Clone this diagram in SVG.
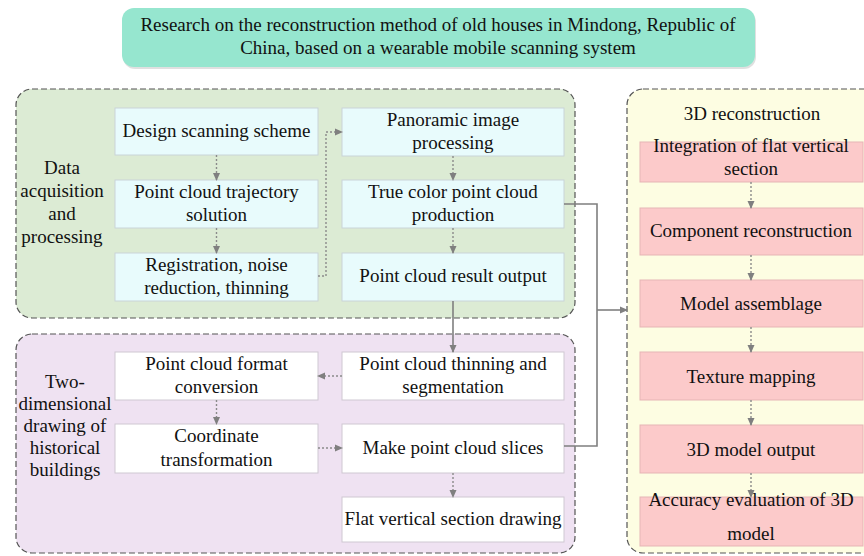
<svg xmlns="http://www.w3.org/2000/svg" width="864" height="556" viewBox="0 0 864 556">
<defs>
<marker id="ah" markerWidth="8" markerHeight="8" refX="7" refY="4" orient="auto" markerUnits="userSpaceOnUse"><path d="M0,0.5 L8,4 L0,7.5 Z" fill="#7f7f7f"/></marker>
</defs>
<style>
text{fill:#111;text-anchor:middle;font-size:19px}
.grp{stroke:#555;stroke-width:1.2;stroke-dasharray:6,3}
.cy{fill:#e8fbfc;stroke:#c9d4d8;stroke-width:1}
.wh{fill:#ffffff;stroke:#cfc8d2;stroke-width:1}
.pk{fill:#fccaca;stroke:#e6b5b5;stroke-width:1}
.dot{fill:none;stroke:#8a8a8a;stroke-width:1.4;stroke-dasharray:2,2}
.sol{fill:none;stroke:#7f7f7f;stroke-width:1.6}
</style>
<g id="title">
<rect x="123" y="10" width="633" height="59" rx="12" fill="#000" fill-opacity="0.12"/>
<rect x="122" y="8" width="633" height="59" rx="12" fill="#96e6cf"/>
<text x="438" y="31" style="font-family:'Liberation Serif',serif">Research on the reconstruction method of old houses in Mindong, Republic of</text>
<text x="438" y="54" style="font-family:'Liberation Serif',serif">China, based on a wearable mobile scanning system</text>
</g>
<g id="group-data">
<rect class="grp" x="16" y="89" width="559" height="229" rx="16" fill="#dcebd4"/>
<text x="62" y="174" style="font-family:'Liberation Serif',serif">Data</text>
<text x="62" y="197" style="font-family:'Liberation Serif',serif">acquisition</text>
<text x="62" y="220" style="font-family:'Liberation Serif',serif">and</text>
<text x="62" y="243" style="font-family:'Liberation Serif',serif">processing</text>
</g>
<g id="group-2d">
<rect class="grp" x="16" y="334" width="559" height="219" rx="16" fill="#efe2f2"/>
<text x="65" y="388" style="font-family:'Liberation Serif',serif">Two-</text>
<text x="65" y="410" style="font-family:'Liberation Serif',serif">dimensional</text>
<text x="65" y="432" style="font-family:'Liberation Serif',serif">drawing of</text>
<text x="65" y="454" style="font-family:'Liberation Serif',serif">historical</text>
<text x="65" y="476" style="font-family:'Liberation Serif',serif">buildings</text>
</g>
<g id="group-3d">
<rect class="grp" x="627" y="89" width="260" height="464" rx="16" fill="#fdfde2"/>
<text x="752" y="120" style="font-family:'Liberation Serif',serif">3D reconstruction</text>
</g>
<g id="n-design"><rect class="cy" x="115" y="108" width="203" height="47"/><text x="216.5" y="137" style="font-family:'Liberation Serif',serif">Design scanning scheme</text></g>
<g id="n-traj"><rect class="cy" x="115" y="180" width="203" height="48"/><text x="216.5" y="198" style="font-family:'Liberation Serif',serif">Point cloud trajectory</text><text x="216.5" y="221" style="font-family:'Liberation Serif',serif">solution</text></g>
<g id="n-reg"><rect class="cy" x="115" y="253" width="203" height="48"/><text x="216.5" y="271" style="font-family:'Liberation Serif',serif">Registration, noise</text><text x="216.5" y="294" style="font-family:'Liberation Serif',serif">reduction, thinning</text></g>
<g id="n-pano"><rect class="cy" x="342" y="108" width="222" height="48"/><text x="453" y="126" style="font-family:'Liberation Serif',serif">Panoramic image</text><text x="453" y="149" style="font-family:'Liberation Serif',serif">processing</text></g>
<g id="n-true"><rect class="cy" x="342" y="180" width="222" height="48"/><text x="453" y="198" style="font-family:'Liberation Serif',serif">True color point cloud</text><text x="453" y="221" style="font-family:'Liberation Serif',serif">production</text></g>
<g id="n-result"><rect class="cy" x="342" y="253" width="222" height="48"/><text x="453" y="282" style="font-family:'Liberation Serif',serif">Point cloud result output</text></g>
<g id="n-format"><rect class="wh" x="115" y="352" width="203" height="48"/><text x="216.5" y="370" style="font-family:'Liberation Serif',serif">Point cloud format</text><text x="216.5" y="393" style="font-family:'Liberation Serif',serif">conversion</text></g>
<g id="n-coord"><rect class="wh" x="115" y="424" width="203" height="49"/><text x="216.5" y="442" style="font-family:'Liberation Serif',serif">Coordinate</text><text x="216.5" y="466" style="font-family:'Liberation Serif',serif">transformation</text></g>
<g id="n-thin"><rect class="wh" x="342" y="352" width="222" height="48"/><text x="453" y="370" style="font-family:'Liberation Serif',serif">Point cloud thinning and</text><text x="453" y="393" style="font-family:'Liberation Serif',serif">segmentation</text></g>
<g id="n-slices"><rect class="wh" x="342" y="424" width="222" height="49"/><text x="453" y="454" style="font-family:'Liberation Serif',serif">Make point cloud slices</text></g>
<g id="n-flat"><rect class="wh" x="342" y="497" width="222" height="45"/><text x="453" y="525" style="font-family:'Liberation Serif',serif">Flat vertical section drawing</text></g>
<g id="n-integ"><rect class="pk" x="640" y="142" width="223" height="40"/><text x="751" y="152" style="font-family:'Liberation Serif',serif">Integration of flat vertical</text><text x="751" y="175" style="font-family:'Liberation Serif',serif">section</text></g>
<g id="n-comp"><rect class="pk" x="640" y="208" width="223" height="47"/><text x="751" y="237" style="font-family:'Liberation Serif',serif">Component reconstruction</text></g>
<g id="n-assem"><rect class="pk" x="640" y="280" width="223" height="47"/><text x="751" y="310" style="font-family:'Liberation Serif',serif">Model assemblage</text></g>
<g id="n-tex"><rect class="pk" x="640" y="352" width="223" height="48"/><text x="751" y="383" style="font-family:'Liberation Serif',serif">Texture mapping</text></g>
<g id="n-out"><rect class="pk" x="640" y="425" width="223" height="48"/><text x="751" y="456" style="font-family:'Liberation Serif',serif">3D model output</text></g>
<g id="n-acc"><rect class="pk" x="640" y="497" width="223" height="49"/><text x="751" y="506" style="font-family:'Liberation Serif',serif">Accuracy evaluation of 3D</text><text x="751" y="540" style="font-family:'Liberation Serif',serif">model</text></g>
<g id="connectors">
<path class="dot" d="M216.5,155 V180" marker-end="url(#ah)"/>
<path class="dot" d="M216.5,228 V253" marker-end="url(#ah)"/>
<path class="dot" d="M318,276 H326 V132 H342" marker-end="url(#ah)"/>
<path class="dot" d="M453,156 V180" marker-end="url(#ah)"/>
<path class="dot" d="M453,228 V253" marker-end="url(#ah)"/>
<path class="sol" d="M453,301 V352" marker-end="url(#ah)"/>
<path class="dot" d="M342,376 H318" marker-end="url(#ah)"/>
<path class="dot" d="M216.5,400 V424" marker-end="url(#ah)"/>
<path class="dot" d="M318,448 H342" marker-end="url(#ah)"/>
<path class="dot" d="M453,473 V497" marker-end="url(#ah)"/>
<path class="sol" d="M564,204 H597 V446 H564"/>
<path class="sol" d="M597,310 H627" marker-end="url(#ah)"/>
<path class="dot" d="M751,182 V208" marker-end="url(#ah)"/>
<path class="dot" d="M751,255 V280" marker-end="url(#ah)"/>
<path class="dot" d="M751,327 V352" marker-end="url(#ah)"/>
<path class="dot" d="M751,400 V425" marker-end="url(#ah)"/>
<path class="dot" d="M751,473 V497" marker-end="url(#ah)"/>
</g>
</svg>
